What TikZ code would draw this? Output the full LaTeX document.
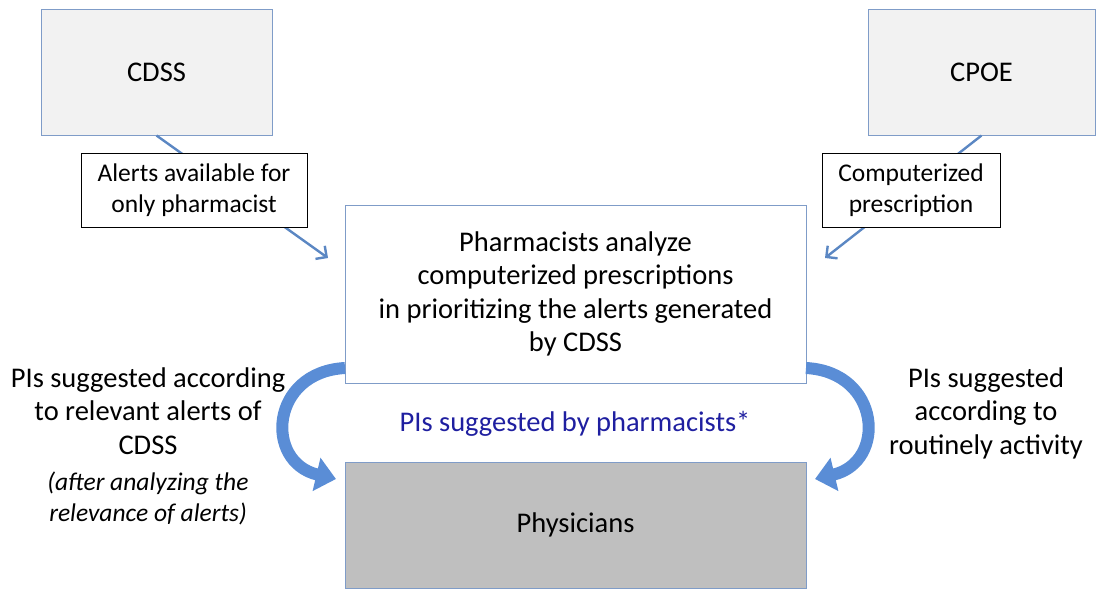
\documentclass[tikz,border=0pt]{standalone}
\usepackage{fontspec}
\setmainfont{Carlito}
\usetikzlibrary{arrows.meta}
\definecolor{boxline}{HTML}{7F9CC8}
\definecolor{arrowblue}{HTML}{5B87C3}
\definecolor{curveblue}{HTML}{5A8DD6}
\definecolor{sysgray}{HTML}{F2F2F2}
\definecolor{docgray}{HTML}{BFBFBF}
\definecolor{piblue}{HTML}{1F1FA0}
\tikzset{
  bigfont/.style={font=\fontsize{28.5}{33.5}\selectfont},
  sysbox/.style={draw=boxline, line width=1pt, fill=sysgray, minimum height=126pt, bigfont},
  flowlabel/.style={draw=black, line width=0.9pt, fill=white, align=center, minimum height=74pt, font=\fontsize{25.5}{31}\selectfont},
  mainbox/.style={draw=boxline, line width=1pt, minimum width=461pt, align=center, bigfont},
  plain/.style={align=center, bigfont},
  arr/.style={draw=arrowblue, line width=2.4pt, -{Straight Barb[length=8pt,width=16pt]}},
  curvearr/.style={draw=curveblue, line width=12pt, -{Triangle[length=20pt,width=33pt]}}
}
\begin{document}
\begin{tikzpicture}[x=1pt,y=-1pt]
\useasboundingbox (0,0) rectangle (1096,590);
% systems
\node[sysbox, minimum width=231pt] (cdss) at (156.5,72) {CDSS};
\node[sysbox, minimum width=227pt] (cpoe) at (981.5,72) {CPOE};
% pharmacists and physicians
\node[mainbox, minimum height=178pt] (pharm) at (575.5,294)
  {Pharmacists analyze\\computerized prescriptions\\in prioritizing the alerts generated\\by CDSS};
\node[mainbox, fill=docgray, minimum height=126pt] (phys) at (575.5,525) {Physicians};
% inputs
\coordinate (cdssin) at (328,258);
\coordinate (cpoein) at (825,258);
\draw[arr] (cdss.south) -- (cdssin);
\draw[arr] (cpoe.south) -- (cpoein);
\node[flowlabel, minimum width=226pt] (alerts) at (194,190) {Alerts available for\\only pharmacist};
\node[flowlabel, minimum width=178pt] (cprx) at (911,190) {Computerized\\prescription};
% interventions
\coordinate (lstart) at (345,368);
\coordinate (lend) at (336,479);
\coordinate (rstart) at (806,368);
\coordinate (rend) at (815,479);
\draw[curvearr] (lstart) .. controls (270,372) and (264,462) .. (lend);
\draw[curvearr] (rstart) .. controls (881,372) and (887,462) .. (rend);
\node[plain, text=piblue] (pisugg) at (575,424) {PIs suggested by pharmacists*};
\node[plain, anchor=north] (leftpi) at (148,364)
  {PIs suggested according\\to relevant alerts of\\CDSS\\[3pt]\itshape\fontsize{25.5}{30}\selectfont (after analyzing the\\[-3pt]\itshape\fontsize{25.5}{30}\selectfont relevance of alerts)};
\node[plain, anchor=north] (rightpi) at (986,364) {PIs suggested\\according to\\routinely activity};
\end{tikzpicture}
\end{document}
